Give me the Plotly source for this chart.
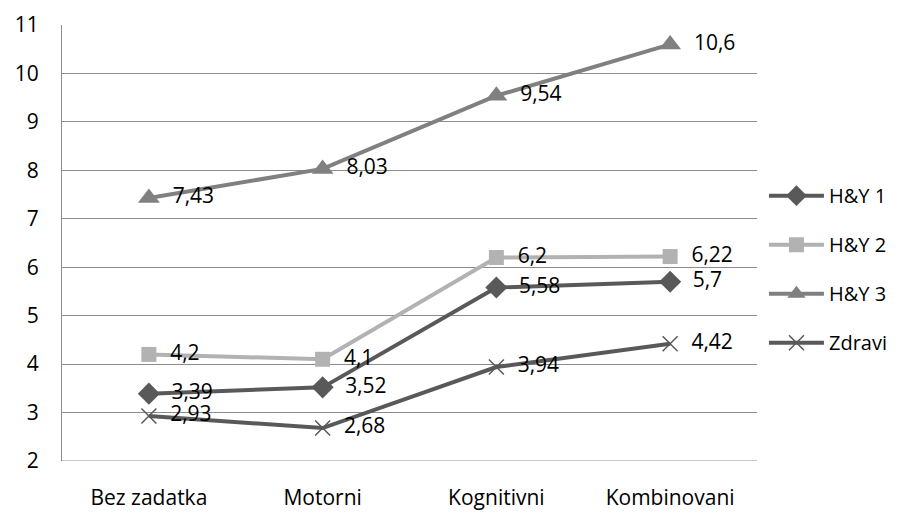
import plotly.graph_objects as go

categories = ["Bez zadatka", "Motorni", "Kognitivni", "Kombinovani"]
hy1 = [3.39, 3.52, 5.58, 5.7]
hy2 = [4.2, 4.1, 6.2, 6.22]
hy3 = [7.43, 8.03, 9.54, 10.6]
zdravi = [2.93, 2.68, 3.94, 4.42]
series_names = ["H&Y 1", "H&Y 2", "H&Y 3", "Zdravi"]

def fmt(v):
    return ("%g" % v).replace(".", ",")

xs = list(range(len(categories)))
specs = [
    (series_names[0], hy1, "#595959", dict(symbol="diamond", size=17)),
    (series_names[1], hy2, "#b2b2b2", dict(symbol="square", size=15)),
    (series_names[2], hy3, "#808080", dict(symbol="triangle-up", size=19)),
    (series_names[3], zdravi, "#595959", dict(symbol="x-thin", size=15, line=dict(width=1.5, color="#595959"))),
]

fig = go.Figure()
for i, (name, vals, col, mk) in enumerate(specs):
    mk = dict(mk)
    mk["color"] = col
    fig.add_trace(go.Scatter(
        x=xs, y=vals, name=name, mode="lines+markers+text",
        line=dict(color=col, width=4),
        marker=mk,
        text=["  " + fmt(v) for v in vals],
        textposition="middle right",
        textfont=dict(size=21, color="#000000", family="Open Sans"),
        legendgroup=str(i),
        cliponaxis=False,
    ))

fig.update_layout(
    width=916, height=507,
    margin=dict(l=54, r=167, t=17, b=54),
    paper_bgcolor="white", plot_bgcolor="white",
    font=dict(family="Open Sans", size=21, color="#000000"),
    showlegend=True,
    legend=dict(x=1.01, xanchor="left", y=0.44, yanchor="middle",
                font=dict(size=20, family="Open Sans"),
                tracegroupgap=20, traceorder="grouped",
                itemwidth=55),
    xaxis=dict(range=[-0.5, 3.5], tickvals=xs, ticktext=categories,
               showgrid=False, zeroline=False, showline=False,
               ticks="", tickfont=dict(size=21), automargin=False,
               ticklabelstandoff=22),
    yaxis=dict(range=[2, 11], dtick=1, showgrid=True, gridcolor="#8c8c8c",
               gridwidth=1, zeroline=False, showline=True, linecolor="#8c8c8c",
               linewidth=1, ticks="", tickfont=dict(size=21), ticklabelstandoff=18,
               automargin=False),
)
fig.add_shape(type="line", xref="paper", yref="y", x0=0, x1=1, y0=2, y1=2,
              line=dict(color="#8c8c8c", width=1), layer="below")

fig.write_html("out.html")
